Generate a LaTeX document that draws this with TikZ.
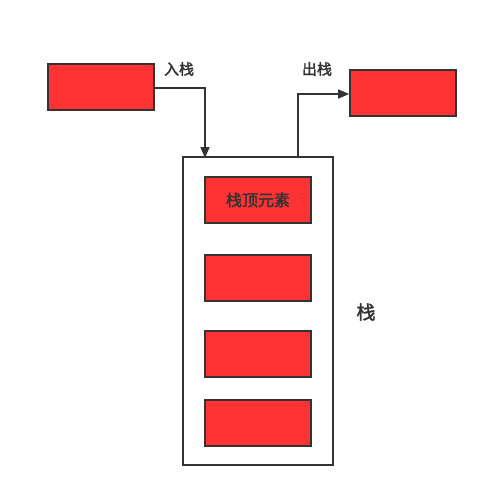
\documentclass[tikz,border=0pt]{standalone}
\usepackage{fontspec}
\newfontfamily\cjk{Noto Sans CJK SC}[AutoFakeBold=2]
\usetikzlibrary{arrows.meta}
\definecolor{boxred}{HTML}{FF3333}
\definecolor{ink}{HTML}{333333}
\tikzset{
  redbox/.style={draw=ink, fill=boxred, line width=1.6pt, minimum width=106pt, minimum height=46pt, inner sep=0pt, font=\cjk\bfseries\fontsize{16}{18}\selectfont, text=ink},
  container/.style={draw=ink, line width=1.6pt, minimum width=150pt, minimum height=308pt, inner sep=0pt},
  lbl/.style={font=\cjk\bfseries\fontsize{15}{17}\selectfont, text=ink, inner sep=0pt},
  conn/.style={draw=ink, line width=1.6pt, -{Triangle[length=11pt,width=9pt]}}
}
\begin{document}
\begin{tikzpicture}[x=1pt,y=-1pt]
\useasboundingbox (0,0) rectangle (488,498);
\node[container] (stack) at (258,311) {};
\node[redbox] (in) at (101,87) {};
\node[redbox] (out) at (403,93) {};
\node[redbox] (top) at (258,200) {栈顶元素};
\node[redbox] (b2) at (258,278) {};
\node[redbox] (b3) at (258,354) {};
\node[redbox] (b4) at (258,423) {};
\node[lbl] (lin) at (179,69) {入栈};
\node[lbl] (lout) at (317,69) {出栈};
\node[lbl, font=\cjk\bfseries\fontsize{19}{21}\selectfont] (lstack) at (366,312) {栈};
\coordinate (inbend) at (205,88);
\coordinate (intip) at (205,158);
\coordinate (outstart) at (298,157);
\coordinate (outbend) at (298,94);
\draw[conn] (in.east |- inbend) -- (inbend) -- (intip);
\draw[conn] (outstart) -- (outbend) -- (out.west |- outbend);
\end{tikzpicture}
\end{document}
